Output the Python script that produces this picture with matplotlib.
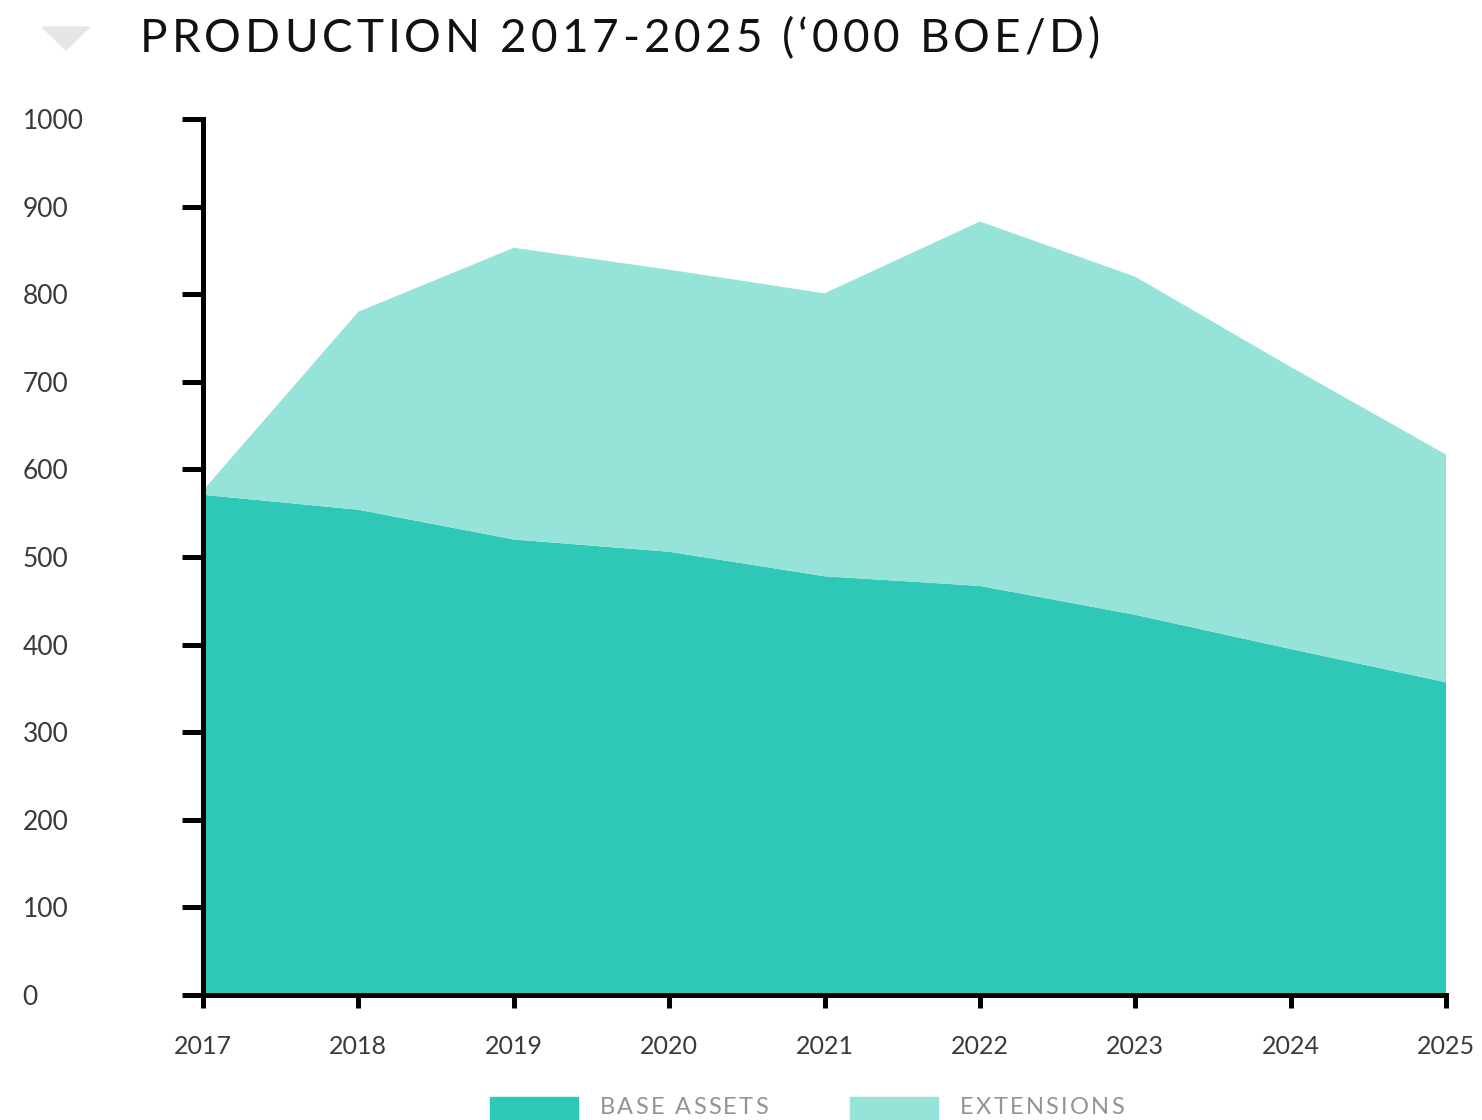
import numpy as np
import matplotlib.pyplot as plt
from matplotlib.patches import Polygon, Rectangle
from matplotlib.font_manager import FontProperties

# Data ('000 boe/d)
years = [2017, 2018, 2019, 2020, 2021, 2022, 2023, 2024, 2025]
base_assets = [571, 554, 520, 506, 478, 467, 434, 395, 357]
extensions = [5, 226, 333, 322, 323, 416, 386, 322, 260]
y_ticks = [0, 100, 200, 300, 400, 500, 600, 700, 800, 900, 1000]
series_names = ['BASE ASSETS', 'EXTENSIONS']
colors = ['#2fc7b5', '#96e3d9']

W, H = 1482, 1120
FONT = 'Lato'

fig = plt.figure(figsize=(W / 100, H / 100), dpi=100)
ax = fig.add_axes([203 / W, 1 - 995 / H, (1446 - 203) / W, (995 - 119) / H])

ax.stackplot(years, base_assets, extensions, colors=colors, linewidth=0)

ax.set_xlim(years[0], years[-1])
ax.set_ylim(0, 1000)
ax.set_xticks(years)
ax.set_yticks(y_ticks)
for side in ['top', 'right']:
    ax.spines[side].set_visible(False)
for side in ['left', 'bottom']:
    ax.spines[side].set_linewidth(3.6)
ax.tick_params(axis='y', length=15, width=3.6, pad=115, labelsize=19, labelcolor='#3a3a3a')
ax.tick_params(axis='x', length=9.5, width=3.6, pad=19, labelsize=18, labelcolor='#3a3a3a')
for lab in ax.get_yticklabels():
    lab.set_ha('left')
    lab.set_va('center_baseline')
    lab.set_family(FONT)
for lab in ax.get_xticklabels():
    lab.set_family(FONT)

renderer = fig.canvas.get_renderer()


def advance(ch, size):
    # width a character takes in a line, in pixels
    fp = FontProperties(family=FONT, size=size)
    w1 = renderer.get_text_width_height_descent('H' + ch + 'H', fp, ismath=False)[0]
    w0 = renderer.get_text_width_height_descent('HH', fp, ismath=False)[0]
    return w1 - w0


def spaced_text(x_px, y_px, s, size, color, track, va='baseline'):
    x = x_px
    for ch in s:
        fig.text(x / W, 1 - y_px / H, ch, fontsize=size, color=color,
                 family=FONT, ha='left', va=va)
        x += advance(ch, size) + track


# title and the little triangle
spaced_text(140, 52, 'PRODUCTION 2017-2025 (\u2018000 BOE/D)', 33, '#111111', 4)
fig.patches.append(Polygon([[42 / W, 1 - 27 / H], [90 / W, 1 - 27 / H], [66 / W, 1 - 50 / H]],
                           closed=True, transform=fig.transFigure, color='#e6e6e6'))

# legend (cut at the bottom edge as in the original)
leg_x = [490, 850]
for name, col, lx in zip(series_names, colors, leg_x):
    fig.patches.append(Rectangle((lx / W, -0.02), 88 / W, 0.02 + 1 - 1097 / H,
                                 transform=fig.transFigure, color=col))
    spaced_text(lx + 110, 1097, name, 17, '#8d959c', 2.2, va='top')

fig.savefig('out.png', dpi=100)
